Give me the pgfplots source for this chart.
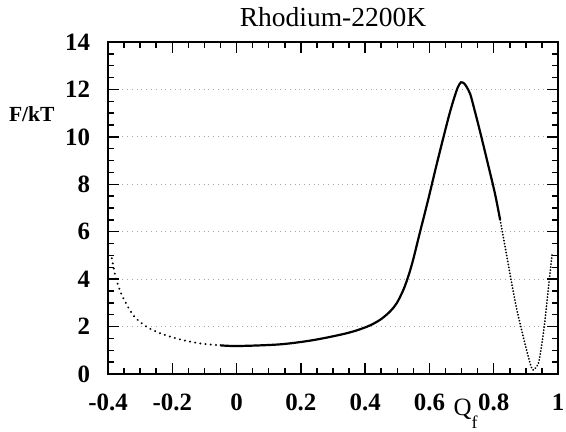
\documentclass[border=0pt]{standalone}
\usepackage{fontspec}
\setmainfont{Liberation Serif}
\usepackage{pgfplots}
\pgfplotsset{compat=1.18}
\begin{document}
\begin{tikzpicture}
\useasboundingbox (-54bp,-29bp) rectangle (229bp,187bp);
\begin{axis}[
  at={(0,0)}, anchor=south west,
  scale only axis, width=225bp, height=166bp,
  xmin=-0.4, xmax=1, ymin=0, ymax=14,
  xtick={-0.4,-0.2,0,0.2,0.4,0.6,0.8,1},
  xticklabels={-0.4,-0.2,0,0.2,0.4,0.6,0.8,1},
  ytick={0,2,...,14}, yticklabels={0,2,4,6,8,10,12,14},
  minor x tick num=3, minor y tick num=3,
  tick align=inside, major tick length=5.5bp, minor tick length=3bp,
  every tick/.style={black, line width=0.75bp},
  axis line style={line width=1bp},
  ymajorgrids, major grid style={gray!70, dotted, line width=0.4bp},
  tick label style={font=\fontsize{12.5}{14}\selectfont\bfseries},
  xticklabel style={yshift=-6.5bp},
  yticklabel style={xshift=-5.5bp},
  title={Rhodium-2200K},
  every axis title/.style={font=\fontsize{13.8}{16}\selectfont, inner sep=0pt, at={(0.5,1)}, anchor=base, yshift=7.5bp},
  ylabel={F/kT},
  every axis y label/.style={font=\fontsize{10.8}{13}\selectfont\bfseries, inner sep=0pt, at={(axis description cs:-0.118,0.762)}, anchor=base east},
  xlabel={Q\raisebox{-6.5bp}{\fontsize{9}{9}\selectfont f}},
  every axis x label/.style={font=\fontsize{12.5}{14}\selectfont, inner sep=0pt, at={(axis description cs:0.767,-0.1265)}, anchor=base west},
]
% left sparse (dotted) part
\addplot[black, line width=1.1bp, dash pattern=on 0.01bp off 2.6bp, line cap=round, smooth] coordinates {
(-0.388,4.88) (-0.378,4.18) (-0.368,3.72) (-0.357,3.33) (-0.337,2.81) (-0.316,2.39)
(-0.280,1.99) (-0.238,1.72) (-0.176,1.46) (-0.114,1.29) (-0.052,1.21)
};
% dense solid part
\addplot[black, line width=1.1bp, smooth, tension=0.5] coordinates {
(-0.052,1.21) (0.004,1.18) (0.135,1.25) (0.239,1.43) (0.343,1.72) (0.405,1.99)
(0.446,2.28) (0.477,2.63) (0.498,2.98) (0.519,3.55) (0.535,4.15) (0.548,4.75)
(0.560,5.40) (0.571,6.00) (0.597,7.40) (0.620,8.70) (0.643,9.95) (0.662,10.95)
(0.676,11.60) (0.688,12.08) (0.698,12.30) (0.708,12.25) (0.716,12.10) (0.727,11.80)
(0.740,11.15) (0.757,10.25) (0.783,8.80) (0.804,7.60) (0.820,6.50)
};
% right sparse (dotted) part
\addplot[black, line width=1bp, dash pattern=on 0.01bp off 1.5bp, line cap=round, smooth, tension=0.4] coordinates {
(0.820,6.50) (0.841,4.95) (0.856,3.83) (0.872,2.70) (0.892,1.57) (0.913,0.45)
(0.923,0.17) (0.939,0.45) (0.949,1.20) (0.958,2.10) (0.966,3.10) (0.974,4.10) (0.982,5.10)
};
\end{axis}
\end{tikzpicture}
\end{document}
